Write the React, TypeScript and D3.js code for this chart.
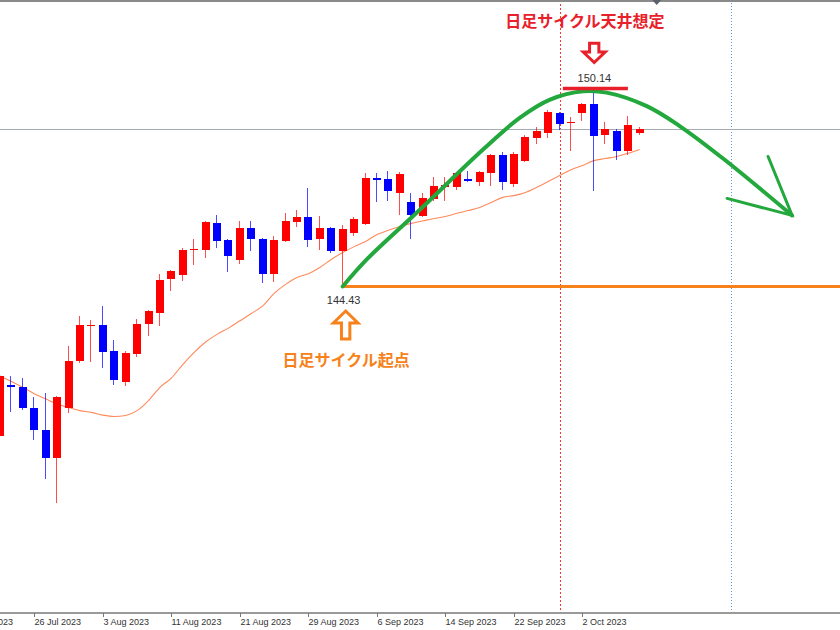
import React from "react";
import * as d3 from "d3";

const W = 840;
const H = 630;

// ---- data ----
const dates = [
  "2023-07-21",
  "2023-07-24", "2023-07-25", "2023-07-26", "2023-07-27", "2023-07-28",
  "2023-07-31", "2023-08-01", "2023-08-02", "2023-08-03", "2023-08-04",
  "2023-08-07", "2023-08-08", "2023-08-09", "2023-08-10", "2023-08-11",
  "2023-08-14", "2023-08-15", "2023-08-16", "2023-08-17", "2023-08-18",
  "2023-08-21", "2023-08-22", "2023-08-23", "2023-08-24", "2023-08-25",
  "2023-08-28", "2023-08-29", "2023-08-30", "2023-08-31", "2023-09-01",
  "2023-09-04", "2023-09-05", "2023-09-06", "2023-09-07", "2023-09-08",
  "2023-09-11", "2023-09-12", "2023-09-13", "2023-09-14", "2023-09-15",
  "2023-09-18", "2023-09-19", "2023-09-20", "2023-09-21", "2023-09-22",
  "2023-09-25", "2023-09-26", "2023-09-27", "2023-09-28", "2023-09-29",
  "2023-10-02", "2023-10-03", "2023-10-04", "2023-10-05", "2023-10-06",
  "2023-10-09",
];

const open = [
  140.13,
  141.60, 141.52, 140.94, 140.28, 139.47,
  140.94, 142.27, 143.29, 143.31, 142.56,
  141.69, 142.47, 143.36, 143.68, 144.66,
  144.75, 145.47, 145.47, 146.25, 145.76,
  145.18, 146.13, 145.81, 144.78, 145.73,
  146.28, 146.42, 145.79, 146.13, 145.44,
  145.96, 146.22, 147.57, 147.52, 147.14,
  146.88, 146.45, 146.94, 147.29, 147.31,
  147.54, 147.43, 147.69, 148.21, 147.40,
  148.06, 148.70, 148.87, 149.42, 149.15,
  149.42, 149.68, 148.81, 148.90, 148.35,
  148.87,
];

const high = [
  141.98,
  141.86, 141.78, 141.23, 141.37, 141.26,
  142.70, 143.57, 143.45, 143.88, 142.90,
  142.58, 143.48, 143.74, 144.78, 144.92,
  145.53, 145.79, 146.33, 146.48, 145.79,
  146.33, 146.33, 145.84, 145.90, 146.54,
  146.65, 147.26, 146.45, 146.16, 146.19,
  146.42, 147.69, 147.69, 147.75, 147.72,
  147.14, 147.14, 147.60, 147.60, 147.72,
  147.75, 147.75, 148.24, 148.32, 148.32,
  148.81, 149.04, 149.53, 149.45, 149.33,
  149.71, 150.14, 149.16, 148.96, 149.36,
  149.04,
];

const low = [
  139.85,
  140.80, 140.88, 139.99, 138.89, 138.20,
  140.77, 142.21, 142.24, 142.09, 141.60,
  141.55, 142.41, 142.99, 143.28, 144.31,
  144.60, 145.04, 145.24, 145.55, 144.86,
  145.09, 145.44, 144.52, 144.55, 145.70,
  146.16, 145.58, 145.47, 145.41, 144.43,
  145.90, 146.19, 146.88, 146.91, 146.48,
  145.81, 146.42, 146.91, 146.91, 147.20,
  147.43, 147.34, 147.34, 147.20, 147.31,
  148.03, 148.55, 148.70, 148.93, 148.35,
  149.19, 147.17, 148.55, 148.09, 148.21,
  148.81,
];

const close = [
  141.86,
  141.52, 140.94, 140.28, 139.47, 141.23,
  142.27, 143.33, 143.31, 142.53, 141.72,
  142.50, 143.36, 143.71, 144.63, 144.89,
  145.47, 145.50, 146.28, 145.73, 145.32,
  146.13, 145.79, 144.78, 145.76, 146.33,
  146.42, 145.76, 146.13, 145.44, 146.10,
  146.39, 147.57, 147.49, 147.17, 147.66,
  146.48, 146.97, 147.34, 147.37, 147.69,
  147.46, 147.72, 148.21, 147.43, 148.24,
  148.73, 148.90, 149.45, 149.13, 149.16,
  149.68, 148.78, 148.96, 148.35, 149.10,
  148.96,
];

const maValues = [
  141.85,
  141.69, 141.52, 141.34, 141.19, 141.04,
  140.94, 140.85, 140.80, 140.72, 140.68,
  140.71, 140.85, 141.14, 141.52, 141.79,
  142.18, 142.53, 142.83, 143.05, 143.23,
  143.44, 143.65, 143.87, 144.23, 144.49,
  144.69, 144.80, 144.98, 145.21, 145.41,
  145.58, 145.73, 145.93, 146.05, 146.16,
  146.25, 146.32, 146.39, 146.45, 146.54,
  146.62, 146.71, 146.85, 147.00, 147.05,
  147.14, 147.29, 147.46, 147.63, 147.80,
  147.92, 148.06, 148.12, 148.18, 148.27,
  148.38,
];

const tickDates = [
  "2023-07-18", "2023-07-26", "2023-08-03", "2023-08-11", "2023-08-21",
  "2023-08-29", "2023-09-06", "2023-09-14", "2023-09-22", "2023-10-02",
];
const tickLabels = [
  "18 Jul 2023", "26 Jul 2023", "3 Aug 2023", "11 Aug 2023", "21 Aug 2023",
  "29 Aug 2023", "6 Sep 2023", "14 Sep 2023", "22 Sep 2023", "2 Oct 2023",
];

const cycleLowDate = "2023-09-01";
const cycleLowPrice = 144.43;
const cycleTopDate = "2023-10-03";
const cycleTopPrice = 150.14;
const currentPrice = 148.97;
const redMarkerDate = "2023-09-28";
const blueMarkerDate = "2023-10-19";
const shiftMarkerIndex = 57.5;

// projected cycle curve (bar index, price)
const projIdx = [30, 32.11, 36.78, 42.29, 45.53, 48.16, 51.05, 53.12, 56.63, 59.54, 63.31, 69.35];
const projPrice = [144.43, 145.21, 146.65, 148.38, 149.30, 149.82, 150.06, 150.02, 149.63, 149.05, 148.12, 146.48];
const headIdx = [67.25, 69.35, 63.66];
const headPrice = [148.18, 146.48, 146.97];

const labelTop = "日足サイクル天井想定";
const labelLow = "日足サイクル起点";

function tradingOffset(d: string): number {
  const idx = dates.indexOf(d);
  if (idx >= 0) return idx;
  const t0 = new Date(dates[0] + "T00:00:00Z");
  const t = new Date(d + "T00:00:00Z");
  const forward = t > t0;
  const days = forward ? d3.utcDay.range(t0, t) : d3.utcDay.range(t, t0);
  const n = days.filter((x) => x.getUTCDay() !== 0 && x.getUTCDay() !== 6).length;
  return forward ? n : -n;
}

const RED = "#ff0000";
const BLUE = "#0000ff";
const AXIS_Y = 613;

function arrowPath(cx: number, top: number, hw: number, sw: number, headH: number, total: number, up: boolean) {
  if (up) {
    const b = top + headH;
    return `M${cx},${top} L${cx + hw / 2},${b} L${cx + sw / 2},${b} L${cx + sw / 2},${top + total} L${cx - sw / 2},${top + total} L${cx - sw / 2},${b} L${cx - hw / 2},${b} Z`;
  }
  const s = top + total - headH;
  return `M${cx - sw / 2},${top} L${cx + sw / 2},${top} L${cx + sw / 2},${s} L${cx + hw / 2},${s} L${cx},${top + total} L${cx - hw / 2},${s} L${cx - sw / 2},${s} Z`;
}

export default function App() {
  const x = d3.scaleLinear().domain([0, 56]).range([0.04, 639.6]);
  const y = d3.scaleLinear().domain([144.43, 150.14]).range([286.5, 88.5]);

  const maLine = d3
    .line<number>()
    .x((_, i) => x(i))
    .y((v) => y(v))
    .curve(d3.curveMonotoneX)(maValues) as string;

  const projLine = d3
    .line<number>()
    .x((v) => x(v))
    .y((_, i) => y(projPrice[i]))
    .curve(d3.curveCatmullRom.alpha(0.5))(projIdx) as string;

  const headLine = d3
    .line<number>()
    .x((v) => x(v))
    .y((_, i) => y(headPrice[i]))(headIdx) as string;

  const lowX = x(tradingOffset(cycleLowDate));
  const lowY = y(cycleLowPrice);
  const topX = x(tradingOffset(cycleTopDate));
  const topY = y(cycleTopPrice);
  const redX = Math.round(x(tradingOffset(redMarkerDate))) + 0.5;
  const blueX = Math.round(x(tradingOffset(blueMarkerDate))) + 0.5;
  const curY = Math.round(y(currentPrice)) + 0.5;
  const shiftX = x(shiftMarkerIndex);

  const cjk = "'Noto Sans CJK JP', 'Noto Sans', sans-serif";
  const latin = "'Liberation Sans', Arial, sans-serif";

  return (
    <svg
      width={W}
      height={H}
      viewBox={`0 0 ${W} ${H}`}
      style={{ position: "absolute", left: 0, top: 0, background: "#ffffff" }}
    >
      <rect x={0} y={0} width={W} height={H} fill="#ffffff" />

      {/* vertical markers */}
      <line x1={redX} x2={redX} y1={0} y2={AXIS_Y} stroke="#ff3030" strokeWidth={1} strokeDasharray="2,2" />
      <line x1={blueX} x2={blueX} y1={0} y2={AXIS_Y} stroke="#5a9be0" strokeWidth={1} strokeDasharray="1,2" />

      {/* current price line */}
      <line x1={0} x2={W} y1={curY} y2={curY} stroke="#a4abb3" strokeWidth={1} />

      {/* moving average */}
      <path d={maLine} fill="none" stroke="#ff8a5c" strokeWidth={1.1} />

      {/* candles */}
      <g shapeRendering="crispEdges">
        {dates.map((d, i) => {
          const cx = Math.round(x(i));
          const bull = close[i] >= open[i];
          const col = bull ? RED : BLUE;
          const yt = Math.round(y(Math.max(open[i], close[i])));
          const yb = Math.round(y(Math.min(open[i], close[i])));
          const h = Math.max(1, yb - yt);
          return (
            <g key={d}>
              <line
                x1={cx - 0.5}
                x2={cx - 0.5}
                y1={Math.round(y(high[i]))}
                y2={Math.round(y(low[i]))}
                stroke={col}
                strokeOpacity={0.7}
                strokeWidth={1}
              />
              <rect x={cx - 4} y={yt} width={8} height={h} fill={col} />
            </g>
          );
        })}
      </g>

      {/* cycle low horizontal */}
      <line x1={lowX} x2={W} y1={lowY} y2={lowY} stroke="#f7821b" strokeWidth={3} />

      {/* projected cycle curve */}
      <path d={projLine} fill="none" stroke="#22a83c" strokeWidth={4} strokeLinecap="round" />
      <path d={headLine} fill="none" stroke="#22a83c" strokeWidth={3} strokeLinecap="round" strokeLinejoin="miter" />

      {/* cycle top line */}
      <line x1={topX - 31} x2={topX + 34} y1={topY} y2={topY} stroke="#e8202a" strokeWidth={3.5} />

      {/* price labels */}
      <text x={topX + 0.5} y={topY - 7} textAnchor="middle" fontFamily={latin} fontSize={11} fill="#333">
        {cycleTopPrice.toFixed(2)}
      </text>
      <text x={lowX + 1} y={lowY + 17.5} textAnchor="middle" fontFamily={latin} fontSize={11} fill="#333">
        {cycleLowPrice.toFixed(2)}
      </text>

      {/* arrows */}
      <path
        d={arrowPath(topX + 0.3, 43.2, 22, 9.3, 10.5, 19.3, false)}
        fill="#fff"
        stroke="#e8202a"
        strokeWidth={3}
        strokeLinejoin="miter"
      />
      <path
        d={arrowPath(lowX + 3, lowY + 24.5, 24.6, 8.4, 12, 28, true)}
        fill="#fff"
        stroke="#f7821b"
        strokeWidth={3}
        strokeLinejoin="miter"
      />

      {/* annotation text */}
      <text x={topX - 9} y={27} textAnchor="middle" fontFamily={cjk} fontWeight={700} fontSize={16} fill="#e8202a">
        {labelTop}
      </text>
      <text x={lowX + 3.5} y={lowY + 79} textAnchor="middle" fontFamily={cjk} fontWeight={700} fontSize={16} fill="#f7821b">
        {labelLow}
      </text>

      {/* x axis */}
      <rect x={0} y={AXIS_Y - 1} width={W} height={2} fill="#9a9a9a" />
      <g>
        {tickDates.map((d, i) => {
          const tx = Math.round(x(tradingOffset(d))) + 0.5;
          return (
            <g key={d}>
              <line x1={tx} x2={tx} y1={AXIS_Y} y2={AXIS_Y + 4} stroke="#777" strokeWidth={1} />
              <text x={tx} y={AXIS_Y + 11.5} fontFamily={latin} fontSize={9} fill="#333">
                {tickLabels[i]}
              </text>
            </g>
          );
        })}
      </g>

      {/* top frame and chart-shift marker */}
      <rect x={0} y={0} width={W} height={2} fill="#8a8a8a" />
      <path d={`M${shiftX - 4.5},0 L${shiftX + 4.5},0 L${shiftX},5 Z`} fill="#5b606a" />
    </svg>
  );
}
